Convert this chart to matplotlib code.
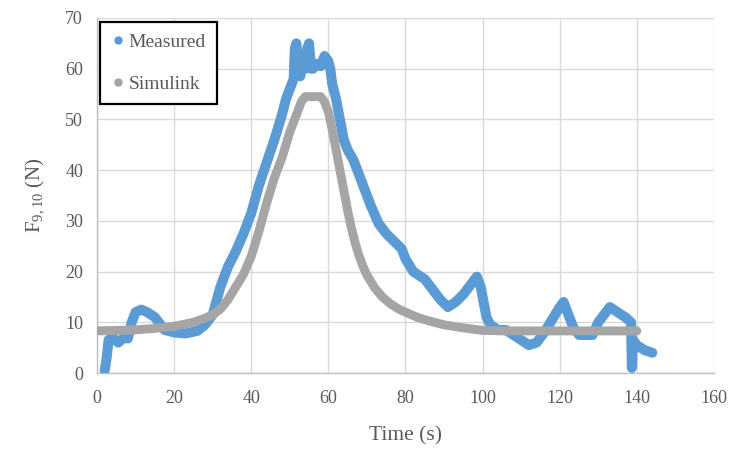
import matplotlib
matplotlib.use("Agg")
import matplotlib.pyplot as plt
from matplotlib.lines import Line2D

plt.rcParams["font.family"] = ["Liberation Serif", "DejaVu Serif"]
plt.rcParams["mathtext.default"] = "regular"

# Measured force trace (time in s, force in N)
measured_t = [2, 2.5, 3, 4, 5.5, 7, 8, 9, 10, 11.5, 13, 15, 16, 17.5, 20, 23, 26,
              28, 30, 32, 34, 36, 38, 40, 42, 44, 46, 48, 49, 50, 51, 51.3, 51.7,
              52.2, 52.7, 53.3, 54, 54.5, 55, 55.5, 56, 57, 58, 59, 60, 60.5, 61,
              62, 63, 64, 65, 66.5, 68, 69, 71, 73, 75, 77, 79, 80, 82, 85, 87,
              89, 91, 93, 95, 97, 98.5, 99.5, 101, 102, 104, 106, 108, 110, 112,
              114, 116, 118, 120, 121, 122, 123.5, 125, 127, 128.5, 130, 132, 133,
              135, 137, 138.5, 138.7, 139, 140, 142, 144]
measured_f = [0.5, 3, 6.5, 7, 6, 7, 6.8, 10, 12, 12.5, 12, 11, 10, 8.5, 8, 7.8, 8.3,
              9.5, 11.5, 17, 21, 24, 27.5, 31.5, 37, 41.5, 46, 51, 54, 56, 58, 64, 65,
              60, 58.5, 61, 60, 64, 65, 60, 60, 61, 60.5, 62.5, 61.5, 60, 57,
              54, 50, 46, 44, 42, 39, 37, 33, 29.5, 27.5, 26, 24.5, 22.5, 20, 18.5,
              16.5, 14.5, 13, 14, 15.5, 17.5, 19, 17, 11, 9.5, 8.5, 8.5, 7.5, 6.5,
              5.5, 6, 8, 10.5, 13, 14, 12, 9, 7.5, 7.5, 7.5, 10, 12, 13, 12, 11,
              10, 1, 6.5, 5.5, 4.5, 4]

# Simulink model output
sim_t = [0, 10, 15, 20, 25, 28, 30, 32, 34, 36, 38, 40, 42, 44, 46, 48, 50, 52,
         53, 54, 56, 58, 59, 60, 61, 62, 63, 64, 65, 66, 67, 68, 69, 70, 72, 74,
         76, 78, 80, 83, 86, 90, 95, 100, 105, 140]
sim_f = [8.3, 8.5, 8.8, 9.2, 10.0, 10.8, 11.5, 12.6, 14.5, 17, 19.5, 23, 28, 33.5,
         38.5, 42.5, 47.5, 51.5, 53.5, 54.5, 54.5, 54.5, 53.5, 51.5, 48, 44, 40,
         36, 32, 28.5, 25.5, 23, 21, 19.3, 16.8, 15, 13.7, 12.7, 12, 11, 10.3, 9.5,
         8.9, 8.4, 8.3, 8.3]

x_ticks = list(range(0, 161, 20))
y_ticks = list(range(0, 71, 10))

BLUE = "#5B9BD5"
GRAY = "#A5A5A5"
TEXT = "#595959"

fig = plt.figure(figsize=(7.31, 4.5), dpi=100)
ax = fig.add_axes([0.1327, 0.1711, 0.844, 0.7889])

ax.plot(measured_t, measured_f, color=BLUE, linewidth=7.2,
        solid_capstyle="round", solid_joinstyle="round", zorder=3)
ax.plot(sim_t, sim_f, color=GRAY, linewidth=6.4,
        solid_capstyle="round", solid_joinstyle="round", zorder=4)

ax.set_xlim(0, 160)
ax.set_ylim(0, 70)
ax.set_xticks(x_ticks)
ax.set_yticks(y_ticks)
ax.grid(True, color="#D9D9D9", linewidth=1.0, zorder=0)
ax.set_axisbelow(True)

for side in ["top", "right"]:
    ax.spines[side].set_visible(False)
for side in ["left", "bottom"]:
    ax.spines[side].set_color("#BFBFBF")
    ax.spines[side].set_linewidth(1.0)

ax.tick_params(axis="x", length=0, labelsize=13, labelcolor=TEXT, pad=12)
ax.tick_params(axis="y", length=0, labelsize=13, labelcolor=TEXT, pad=10)
ax.set_xlabel("Time (s)", fontsize=15.5, color=TEXT, labelpad=14)
ax.set_ylabel("F$_{9,10}$ (N)", fontsize=15, color=TEXT, labelpad=14)

handles = [
    Line2D([], [], color=BLUE, marker="o", linestyle="none", markersize=5),
    Line2D([], [], color=GRAY, marker="o", linestyle="none", markersize=5),
]
leg = ax.legend(handles, ["Measured", "Simulink"], loc="upper left",
                bbox_to_anchor=(0.005, 0.99), fontsize=14, labelcolor=TEXT,
                frameon=True, fancybox=False, labelspacing=1.25,
                handlelength=0.6, handletextpad=0.25, borderpad=0.6,
                borderaxespad=0)
leg.get_frame().set_edgecolor("black")
leg.get_frame().set_linewidth(1.6)
leg.get_frame().set_alpha(1)

fig.savefig("out.png", dpi=100)
